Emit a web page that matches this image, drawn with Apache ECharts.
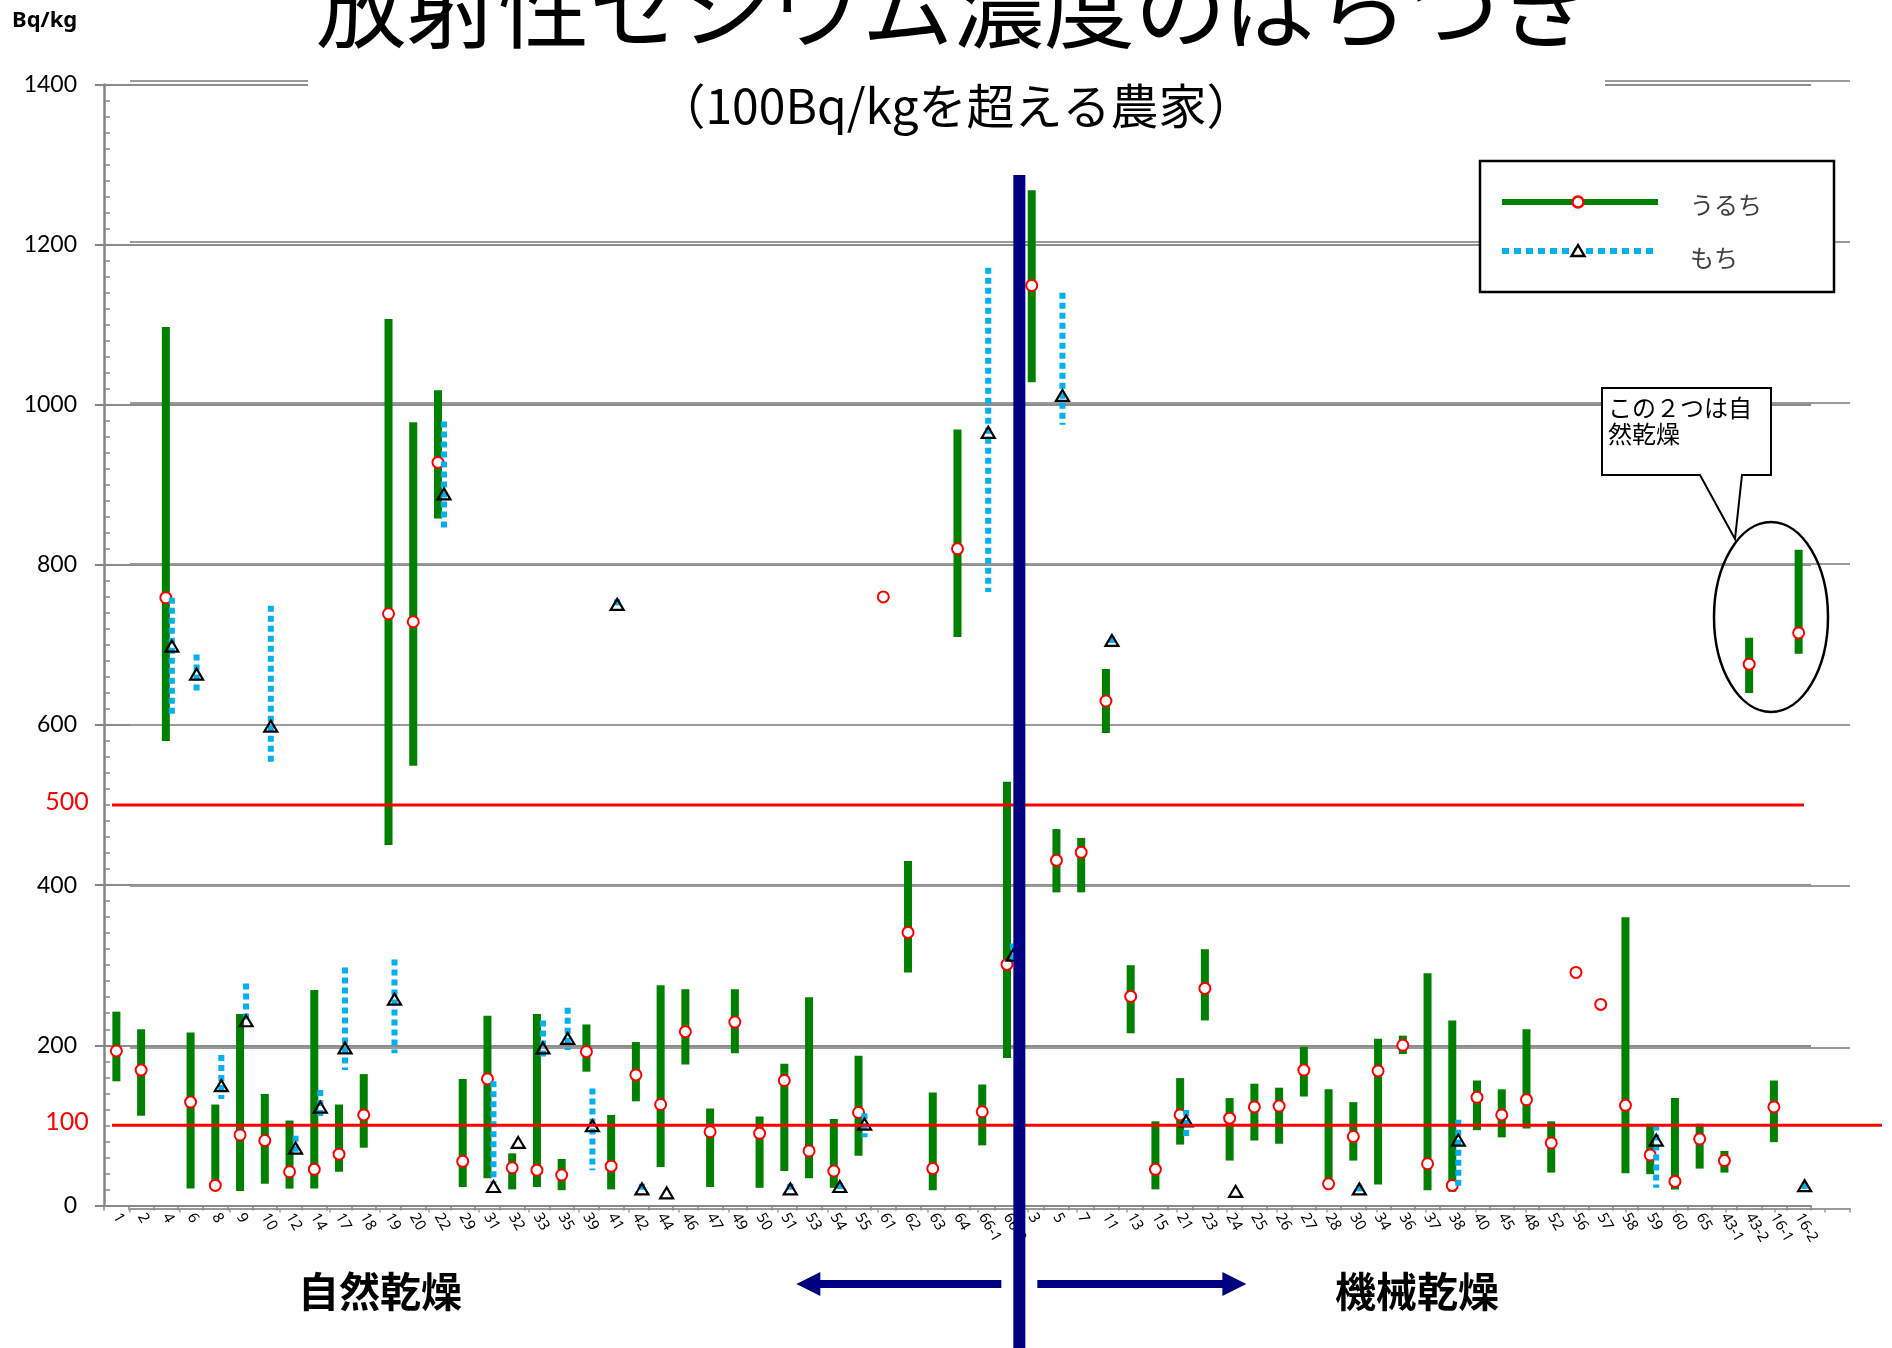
<!DOCTYPE html>
<html>
<head>
<meta charset="utf-8">
<script src="https://cdn.jsdelivr.net/npm/echarts@6/dist/echarts.min.js"></script>
<style>
  html, body { margin: 0; padding: 0; background: #fff; }
  #chart { width: 1892px; height: 1348px; }
</style>
</head>
<body>
<div id="chart"></div>
<script>
// 農家番号（左: 自然乾燥 / 右: 機械乾燥）
const categories = ['1','2','4','6','8','9','10','12','14','17','18','19','20','22','29','31','32','33','35','39',
  '41','42','44','46','47','49','50','51','53','54','55','61','62','63','64','66-1','66-2',
  '3','5','7','11','13','15','21','23','24','25','26','27','28','30','34','36','37','38','40',
  '45','48','52','56','57','58','59','60','65','43-1','43-2','16-1','16-2'];

// うるち: 最小値・最大値・代表値 (Bq/kg)
const uruchiLow = [155,112,580,21,21,18,27,21,21,42, 72,450,549,858,23,34,20,23,19,167,
  20,130,48,176,23,190,22,43,34,22, 62,null,291,19,710,75,184,
  1028,391,391,590,215,20,76,231,56,81, 77,136,22,56,26,189,19,17,94,85,
  96,41,null,null,40,39,20,46,41,640, 79,689];
const uruchiHigh = [242,220,1097,216,126,239,139,106,269,126, 164,1107,978,1018,158,237,65,239,58,226,
  113,204,275,270,121,270,111,177,260,108, 187,null,430,141,969,151,529,
  1268,470,459,670,300,105,159,320,134,152, 147,198,145,129,208,212,290,231,156,145,
  220,105,null,null,360,102,134,102,68,709, 156,819];
const uruchiValue = [193,169,759,129,25,88,81,42,45,64, 113,739,729,928,55,158,47,44,38,192,
  49,163,126,217,92,229,90,156,68,43, 116,760,341,46,820,117,301,
  1149,431,441,630,261,45,113,271,109,123, 124,169,27,86,168,200,52,25,135,113,
  132,78,291,251,125,63,30,83,56,676, 123,715];

// もち: 最小値・最大値・代表値 (Bq/kg)
const mochiLow = [null,null,609,640,133,228,551,65,107,169, null,190,null,845,null,28,null,182,194,44,
  745,18,null,null,null,null,null,18,null,19, 85,null,null,null,null,766,306,
  null,975,null,700,null,null,85,null,null,null, null,null,null,16,null,null,null,24,null,null,
  null,null,null,null,null,22,null,null,null,null, null,20];
const mochiHigh = [null,null,759,688,188,277,749,87,144,297, null,307,null,979,null,155,null,231,247,146,
  757,27,null,null,null,null,null,27,null,28, 115,null,null,null,null,1171,327,
  null,1140,null,710,null,null,119,null,null,null, null,null,null,25,null,null,null,107,null,null,
  null,null,null,null,null,101,null,null,null,null, null,28];
const mochiValue = [null,null,698,663,149,230,598,71,122,196, null,257,null,888,null,23,78,196,208,99,
  750,20,15,null,null,null,null,20,null,23, 101,null,null,null,null,965,312,
  null,1011,null,705,null,null,105,null,17,null, null,null,null,20,null,null,null,81,null,null,
  null,null,null,null,null,81,null,null,null,null, null,24];

// 基準線と縦軸の範囲
const limitLines = [500, 100];
const yMin = 0, yMax = 1400, yStep = 200, yMinorStep = 20;

const GREEN = '#008000', RED = '#ff0000', CYAN = '#00b0f0', NAVY = '#000080', GRIDGRAY = '#8c8c8c';
const SANS = 'Lato, "Noto Sans", sans-serif';
const JP = '"Noto Sans CJK JP", sans-serif';

const uruchiData = categories.map((c, i) => [i,
  uruchiLow[i] == null ? '-' : uruchiLow[i],
  uruchiHigh[i] == null ? '-' : uruchiHigh[i],
  uruchiValue[i]]);
const mochiData = [];
categories.forEach((c, i) => {
  if (mochiValue[i] == null) return;
  mochiData.push([i,
    mochiLow[i] == null ? '-' : mochiLow[i],
    mochiHigh[i] == null ? '-' : mochiHigh[i],
    mochiValue[i]]);
});

function renderUruchi(params, api) {
  const i = api.value(0), lo = api.value(1), hi = api.value(2), v = api.value(3);
  const kids = [];
  if (!isNaN(lo) && !isNaN(hi)) {
    const top = api.coord([i, hi]), bot = api.coord([i, lo]);
    kids.push({ type: 'rect', shape: { x: top[0] - 4, y: top[1], width: 8, height: bot[1] - top[1] },
      style: { fill: GREEN } });
  }
  const c = api.coord([i, v]);
  kids.push({ type: 'circle', shape: { cx: c[0], cy: c[1], r: 5.5 },
    style: { fill: '#fff', stroke: RED, lineWidth: 2 } });
  return { type: 'group', children: kids };
}

function renderMochi(params, api) {
  const i = api.value(0), lo = api.value(1), hi = api.value(2), v = api.value(3);
  const dx = 6;
  const kids = [];
  if (!isNaN(lo) && !isNaN(hi)) {
    const a = api.coord([i, hi]), b = api.coord([i, lo]);
    kids.push({ type: 'line', shape: { x1: a[0] + dx, y1: a[1], x2: b[0] + dx, y2: b[1] },
      style: { stroke: CYAN, lineWidth: 6, lineDash: [6, 4] } });
  }
  const c = api.coord([i, v]);
  const x = c[0] + dx, y = c[1];
  kids.push({ type: 'polygon', shape: { points: [[x, y - 6], [x + 6.5, y + 5], [x - 6.5, y + 5]] },
    style: { fill: 'none', stroke: '#000', lineWidth: 2.2 } });
  return { type: 'group', children: kids };
}

const chart = echarts.init(document.getElementById('chart'));

const option = {
  animation: false,
  backgroundColor: '#fff',
  grid: [
    { left: 104, right: 81, top: 84.5, bottom: 142.6, outerBoundsMode: 'none' },
    { left: 130, right: 42, top: 80.5, bottom: 139.5, outerBoundsMode: 'none' }
  ],
  xAxis: [
    {
      gridIndex: 0, type: 'category', data: categories, boundaryGap: true,
      axisLine: { lineStyle: { color: '#8a8a8a', width: 2 } },
      axisTick: { show: true, length: 5, lineStyle: { color: '#8a8a8a', width: 1.5 } },
      axisLabel: { interval: 0, rotate: -60, margin: 9, fontSize: 15, color: '#000', fontFamily: '"Noto Sans", sans-serif' },
      splitLine: { show: false }
    },
    {
      gridIndex: 1, type: 'category', data: categories, boundaryGap: true,
      axisLine: { lineStyle: { color: '#9a9a9a', width: 2 } },
      axisTick: { show: true, length: 4, lineStyle: { color: '#9a9a9a', width: 1.5 } },
      axisLabel: { show: false },
      splitLine: { show: false }
    }
  ],
  yAxis: [
    {
      gridIndex: 0, type: 'value', min: yMin, max: yMax, interval: yStep,
      axisLine: { show: true, lineStyle: { color: '#868686', width: 2.5 } },
      axisTick: { show: true, inside: false, length: 9, lineStyle: { color: '#868686', width: 2 } },
      axisLabel: { fontSize: 23, color: '#000', fontFamily: SANS, margin: 27, formatter: v => String(v) },
      splitLine: { show: true, lineStyle: { color: GRIDGRAY, width: 2 } }
    },
    {
      gridIndex: 0, type: 'value', min: yMin, max: yMax, interval: yMinorStep, position: 'left', offset: 0,
      axisLine: { show: false },
      axisTick: { show: true, inside: true, length: 6, lineStyle: { color: '#868686', width: 1.5 } },
      axisLabel: { show: false },
      splitLine: { show: false }
    },
    {
      gridIndex: 1, type: 'value', min: yMin, max: yMax, interval: yStep,
      axisLine: { show: false }, axisTick: { show: false }, axisLabel: { show: false },
      splitLine: { show: true, lineStyle: { color: '#9a9a9a', width: 2 } }
    }
  ],
  series: [
    {
      name: 'うるち', type: 'custom', xAxisIndex: 0, yAxisIndex: 0, silent: true, z: 3,
      renderItem: renderUruchi, data: uruchiData, encode: { x: 0, y: [1, 2, 3] }
    },
    {
      name: 'もち', type: 'custom', xAxisIndex: 0, yAxisIndex: 0, silent: true, z: 4,
      renderItem: renderMochi, data: mochiData, encode: { x: 0, y: [1, 2, 3] }
    }
  ]
};

chart.setOption(option);

// 軸のスケールに合わせて注記類を配置
const yPx = v => chart.convertToPixel({ yAxisIndex: 0 }, v);
const xPx = i => chart.convertToPixel({ xAxisIndex: 0 }, i);
const dividerX = (xPx(36) + xPx(37)) / 2;
const arrowY = 1284;

const graphics = [];

// タイトル背面の白地
graphics.push({ type: 'rect', shape: { x: 308, y: 70, width: 1297, height: 22 }, style: { fill: '#fff' }, z: 50 });
graphics.push({ type: 'text', x: 953, y: 6, z: 51,
  style: { text: '放射性セシウム濃度のばらつき', font: '91px ' + JP, fill: '#000', align: 'center', verticalAlign: 'middle' } });
graphics.push({ type: 'text', x: 956, y: 106, z: 51,
  style: { text: '（100Bq/kgを超える農家）', font: '48px ' + JP, fill: '#000', align: 'center', verticalAlign: 'middle' } });
graphics.push({ type: 'text', x: 12, y: 21, z: 51,
  style: { text: 'Bq/kg', font: 'bold 22px "Noto Sans", sans-serif', fill: '#000', align: 'left', verticalAlign: 'middle' } });

// 基準線 (500 / 100 Bq/kg)
limitLines.forEach((v, k) => {
  const y = yPx(v);
  graphics.push({ type: 'line', z: 20, shape: { x1: 112, y1: y, x2: k === 0 ? 1804 : 1882, y2: y },
    style: { stroke: RED, lineWidth: 3 } });
  graphics.push({ type: 'text', x: 67, y: y - 3, z: 20,
    style: { text: String(v), font: '25px ' + SANS, fill: RED, align: 'center', verticalAlign: 'middle' } });
});

// 乾燥方法の区切り線と矢印
graphics.push({ type: 'rect', z: 40, shape: { x: dividerX - 6, y: 175, width: 12, height: 1348 - 175 }, style: { fill: NAVY } });
graphics.push({ type: 'polygon', z: 40, style: { fill: NAVY },
  shape: { points: [[dividerX - 18, arrowY - 4], [dividerX - 199, arrowY - 4], [dividerX - 199, arrowY - 12],
    [dividerX - 223, arrowY], [dividerX - 199, arrowY + 12], [dividerX - 199, arrowY + 4], [dividerX - 18, arrowY + 4]] } });
graphics.push({ type: 'polygon', z: 40, style: { fill: NAVY },
  shape: { points: [[dividerX + 18, arrowY - 4], [dividerX + 203, arrowY - 4], [dividerX + 203, arrowY - 12],
    [dividerX + 227, arrowY], [dividerX + 203, arrowY + 12], [dividerX + 203, arrowY + 4], [dividerX + 18, arrowY + 4]] } });
graphics.push({ type: 'text', x: 380, y: 1291, z: 40,
  style: { text: '自然乾燥', font: 'bold 41px ' + JP, fill: '#000', align: 'center', verticalAlign: 'middle' } });
graphics.push({ type: 'text', x: 1417, y: 1291, z: 40,
  style: { text: '機械乾燥', font: 'bold 41px ' + JP, fill: '#000', align: 'center', verticalAlign: 'middle' } });

// 凡例
graphics.push({ type: 'rect', z: 60, shape: { x: 1480, y: 161, width: 354, height: 131 },
  style: { fill: '#fff', stroke: '#000', lineWidth: 2.5 } });
graphics.push({ type: 'line', z: 61, shape: { x1: 1502, y1: 202, x2: 1658, y2: 202 }, style: { stroke: GREEN, lineWidth: 6 } });
graphics.push({ type: 'circle', z: 62, shape: { cx: 1578, cy: 202, r: 5.5 }, style: { fill: '#fff', stroke: RED, lineWidth: 2.5 } });
graphics.push({ type: 'text', z: 61, x: 1690, y: 205,
  style: { text: 'うるち', font: '24px ' + JP, fill: '#404040', align: 'left', verticalAlign: 'middle' } });
graphics.push({ type: 'line', z: 61, shape: { x1: 1502, y1: 251, x2: 1658, y2: 251 },
  style: { stroke: CYAN, lineWidth: 6, lineDash: [7, 5] } });
graphics.push({ type: 'polygon', z: 62, shape: { points: [[1578, 245], [1584.5, 256], [1571.5, 256]] },
  style: { fill: '#fff', stroke: '#000', lineWidth: 2.4 } });
graphics.push({ type: 'text', z: 61, x: 1690, y: 258,
  style: { text: 'もち', font: '24px ' + JP, fill: '#404040', align: 'left', verticalAlign: 'middle' } });

// 吹き出しと囲み
graphics.push({ type: 'polygon', z: 60, shape: { points: [[1602, 388], [1771, 388], [1771, 475], [1742, 475], [1735, 539], [1700, 475], [1602, 475]] },
  style: { fill: '#fff', stroke: '#000', lineWidth: 2 } });
graphics.push({ type: 'text', z: 61, x: 1608, y: 408,
  style: { text: 'この２つは自', font: '24px ' + JP, fill: '#000', align: 'left', verticalAlign: 'middle' } });
graphics.push({ type: 'text', z: 61, x: 1608, y: 434,
  style: { text: '然乾燥', font: '24px ' + JP, fill: '#000', align: 'left', verticalAlign: 'middle' } });
graphics.push({ type: 'ellipse', z: 60, shape: { cx: 1771, cy: 617, rx: 57, ry: 95 },
  style: { fill: 'none', stroke: '#000', lineWidth: 2.5 } });

chart.setOption({ graphic: graphics });
</script>
</body>
</html>
